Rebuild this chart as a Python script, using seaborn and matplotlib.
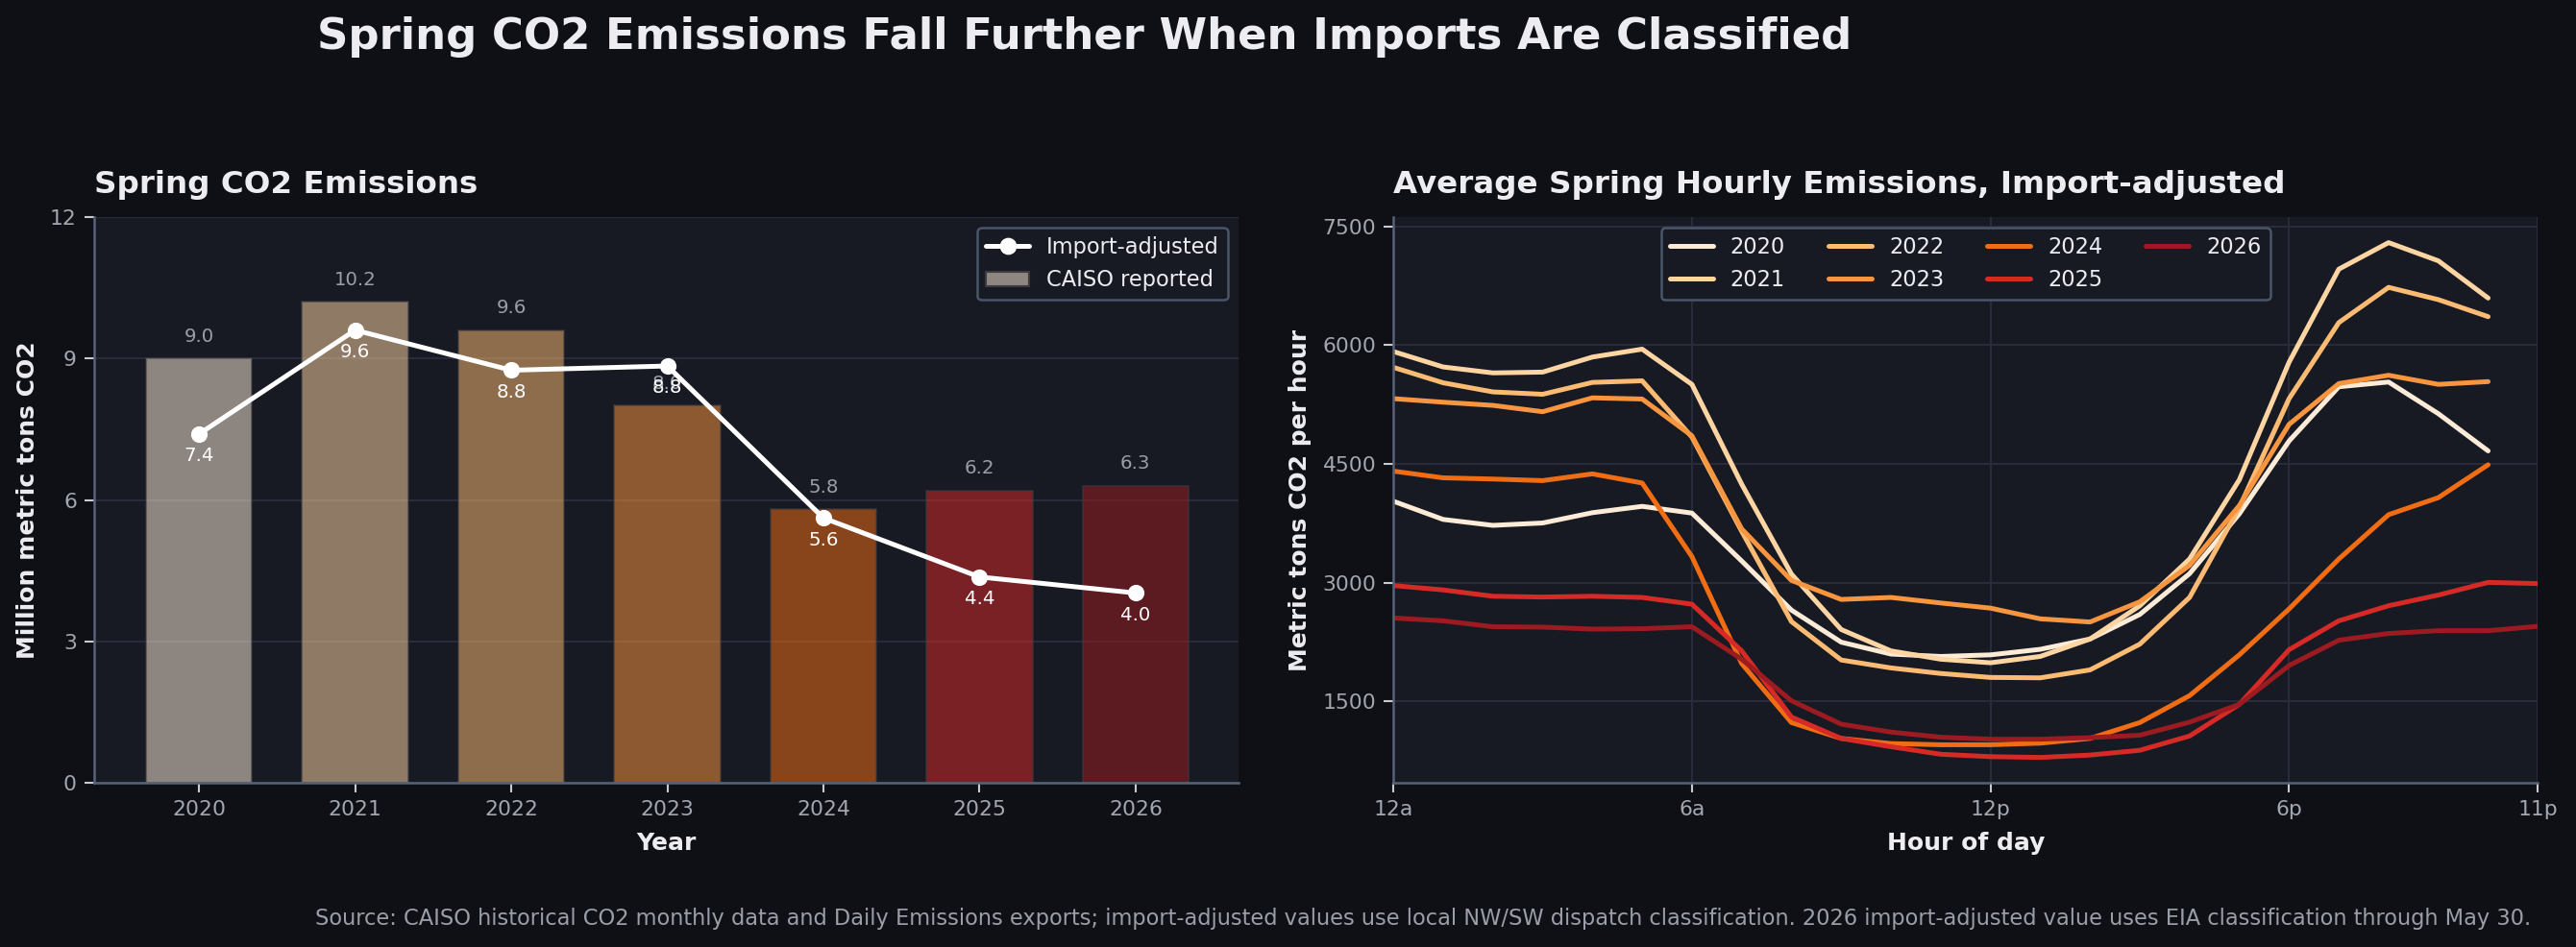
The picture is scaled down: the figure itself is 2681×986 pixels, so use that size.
import numpy as np
import pandas as pd
import matplotlib
matplotlib.use("Agg")
import matplotlib.pyplot as plt
import seaborn as sns
from matplotlib.lines import Line2D
from matplotlib.patches import Patch

# ---------------- data ----------------
years = ["2020", "2021", "2022", "2023", "2024", "2025", "2026"]
caiso_reported = [9.0, 10.2, 9.6, 8.0, 5.8, 6.2, 6.3]
import_adjusted = [7.4, 9.6, 8.75, 8.84, 5.62, 4.37, 4.03]

hours_tick_pos = [0, 6, 12, 18, 23]
hours_tick_lbl = ["12a", "6a", "12p", "6p", "11p"]

h2020 = [4030, 3800, 3725, 3755, 3885, 3965, 3880, 3275, 2655, 2250, 2100, 2070, 2090, 2160, 2290, 2600, 3115, 3870, 4790, 5475, 5535, 5135, 4665]
h2021 = [5920, 5725, 5650, 5660, 5850, 5950, 5505, 4245, 3110, 2410, 2140, 2035, 1990, 2070, 2290, 2710, 3300, 4300, 5785, 6960, 7295, 7065, 6595]
h2022 = [5720, 5525, 5410, 5380, 5530, 5550, 4840, 3650, 2510, 2025, 1925, 1855, 1805, 1800, 1900, 2225, 2815, 3950, 5325, 6285, 6730, 6575, 6360]
h2023 = [5325, 5280, 5240, 5160, 5335, 5320, 4855, 3680, 3030, 2790, 2815, 2745, 2680, 2545, 2505, 2760, 3220, 3975, 5000, 5515, 5620, 5505, 5540]
h2024 = [4410, 4325, 4310, 4290, 4375, 4260, 3330, 1980, 1235, 1035, 970, 955, 955, 975, 1035, 1235, 1575, 2090, 2670, 3300, 3860, 4075, 4490]
h2025 = [2965, 2910, 2830, 2820, 2830, 2815, 2730, 2140, 1305, 1035, 930, 835, 805, 795, 825, 885, 1065, 1465, 2155, 2520, 2710, 2845, 3005, 2990]
h2026 = [2555, 2520, 2445, 2440, 2415, 2420, 2445, 2035, 1510, 1215, 1115, 1050, 1025, 1025, 1045, 1075, 1240, 1465, 1955, 2275, 2360, 2395, 2395, 2450]

hourly = {"2020": h2020, "2021": h2021, "2022": h2022, "2023": h2023,
          "2024": h2024, "2025": h2025, "2026": h2026}

year_colors = ["#fbebd7", "#fcd5a3", "#fcbb73", "#f8953f", "#f16d14", "#d62a27", "#9c1b21"]

# ---------------- style ----------------
FIG_BG = "#0f1015"
AX_BG = "#171923"
GRID = "#2a2e3c"
SPINE = "#55637a"
TICK = "#a3a7b0"
TXT = "#ececf1"

sns.set_theme(style="dark")
plt.rcParams.update({
    "font.family": ["DejaVu Sans"],
    "figure.facecolor": FIG_BG,
    "axes.facecolor": AX_BG,
    "axes.edgecolor": SPINE,
    "axes.labelcolor": TXT,
    "xtick.color": "#c7cad1",
    "ytick.color": "#c7cad1",
    "xtick.labelcolor": TICK,
    "ytick.labelcolor": TICK,
    "text.color": TXT,
})

fig = plt.figure(figsize=(2681 / 150, 986 / 150), dpi=150)
ax1 = fig.add_axes([0.0364, 0.173, 0.4444, 0.598])
ax2 = fig.add_axes([0.5409, 0.173, 0.4443, 0.598])

for ax in (ax1, ax2):
    ax.set_facecolor(AX_BG)
    ax.set_axisbelow(True)
    ax.grid(True, color=GRID, linewidth=0.9)
    for s in ("top", "right"):
        ax.spines[s].set_visible(False)
    for s in ("left", "bottom"):
        ax.spines[s].set_color(SPINE)
        ax.spines[s].set_linewidth(1.2)
    ax.tick_params(axis="both", labelsize=10.5, length=5, width=1, colors="#c7cad1",
                   labelcolor=TICK, bottom=True, left=True)

# ---------------- left panel ----------------
df_bar = pd.DataFrame({"year": years, "reported": caiso_reported, "adjusted": import_adjusted})
sns.barplot(data=df_bar, x="year", y="reported", hue="year", palette=year_colors,
            order=years, hue_order=years, width=0.68, alpha=0.52, legend=False,
            saturation=1, edgecolor="#3d3a40", linewidth=1.0, ax=ax1)
xpos = np.arange(len(years))
sns.lineplot(x=xpos, y=import_adjusted, color="white", linewidth=2.4, marker="o",
             markersize=7.5, markeredgecolor="white", ax=ax1, zorder=5)

for i, v in enumerate(caiso_reported):
    ax1.annotate(f"{v:.1f}", (i, v), xytext=(0, 11), textcoords="offset points",
                 ha="center", va="center", fontsize=9.5, color="#9a9ea8")
for i, v in enumerate(import_adjusted):
    ax1.annotate(f"{v:.1f}", (i, v), xytext=(0, -11), textcoords="offset points",
                 ha="center", va="center", fontsize=9.5, color="white", zorder=6)

ax1.set_ylim(0, 12)
ax1.set_yticks([0, 3, 6, 9, 12])
ax1.set_xlim(-0.675, 6.66)
ax1.set_xlabel("Year", fontsize=12, fontweight="bold", color=TXT, labelpad=6)
ax1.set_ylabel("Million metric tons CO2", fontsize=12, fontweight="bold", color=TXT, labelpad=5.5)
ax1.set_title("Spring CO2 Emissions", loc="left", fontsize=15.6, fontweight="bold", color=TXT, pad=12)

handles = [Line2D([0], [0], color="white", linewidth=2.4, marker="o", markersize=7.5),
           Patch(facecolor="#8e8680", edgecolor="#3d3a40")]
leg1 = ax1.legend(handles, ["Import-adjusted", "CAISO reported"], loc="upper right",
                  fontsize=10.8, facecolor=AX_BG, edgecolor="#4a5568", framealpha=1.0,
                  labelcolor=TXT)
leg1.get_frame().set_linewidth(1.2)

# ---------------- right panel ----------------
rows = []
for y in years:
    for h, v in enumerate(hourly[y]):
        rows.append({"year": y, "hour": h, "tons": v})
df_hr = pd.DataFrame(rows)
sns.lineplot(data=df_hr, x="hour", y="tons", hue="year", hue_order=years,
             palette=dict(zip(years, year_colors)), linewidth=2.4, ax=ax2)

ax2.set_xlim(0, 23)
ax2.set_xticks(hours_tick_pos)
ax2.set_xticklabels(hours_tick_lbl)
ax2.set_yticks([1500, 3000, 4500, 6000, 7500])
ax2.set_xlabel("Hour of day", fontsize=12, fontweight="bold", color=TXT, labelpad=6)
ax2.set_ylabel("Metric tons CO2 per hour", fontsize=12, fontweight="bold", color=TXT, labelpad=5.5)
ax2.set_title("Average Spring Hourly Emissions, Import-adjusted", loc="left", fontsize=15.6,
              fontweight="bold", color=TXT, pad=12)
leg2 = ax2.legend(loc="upper center", ncol=4, fontsize=10.8, facecolor=AX_BG,
                  edgecolor="#4a5568", framealpha=1.0, labelcolor=TXT, title=None)
leg2.get_frame().set_linewidth(1.2)

# ---------------- figure texts ----------------
fig.text(0.123, 0.961, "Spring CO2 Emissions Fall Further When Imports Are Classified",
         ha="left", va="center", fontsize=21.6, fontweight="bold", color=TXT)
fig.text(0.9825, 0.030,
         "Source: CAISO historical CO2 monthly data and Daily Emissions exports; import-adjusted values use "
         "local NW/SW dispatch classification. 2026 import-adjusted value uses EIA classification through May 30.",
         ha="right", va="center", fontsize=10.8, color="#9a9ea8")

fig.savefig("out.png", dpi=150, facecolor=FIG_BG)
